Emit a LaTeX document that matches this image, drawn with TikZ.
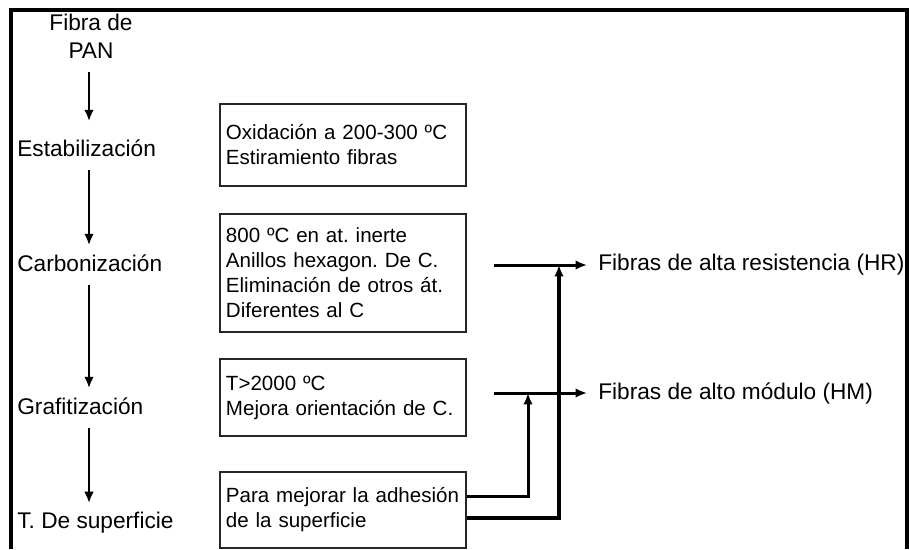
\documentclass[tikz,border=0pt]{standalone}
\usepackage{fontspec}
\setmainfont{Liberation Sans}
\usetikzlibrary{arrows.meta}
\frenchspacing
\newcommand{\lbltxt}{\fontsize{12.9}{16}\selectfont}
\newcommand{\boxtxt}{\fontsize{11.7}{14.2}\selectfont}
\tikzset{
  lbl/.style={inner sep=0pt, font=\lbltxt},
  stepbox/.style={draw=black!85, line width=1.1pt, font=\boxtxt, align=left,
    text width=4.68cm, minimum width=4.92cm, inner xsep=0.12cm, inner ysep=0pt,
    anchor=north west},
  flow/.style={->, line width=1.7pt},
  downflow/.style={flow, shorten <=0.26cm, shorten >=0.18cm},
}
\begin{document}
\begin{tikzpicture}
  [x=0.02cm, y=-0.02cm, >={Latex[length=6.5pt,width=5.5pt]}]
  \useasboundingbox (0,0) rectangle (909,549);
  \draw[line width=2pt] (11,549) -- (11,10) -- (907,10) -- (907,549);

  \node[lbl, align=center] (pan) at (91,36) {Fibra de\\PAN};
  \node[lbl, anchor=west] (estab)  at (17,148) {Estabilización};
  \node[lbl, anchor=west] (carbon) at (17,263) {Carbonización};
  \node[lbl, anchor=west] (grafit) at (17,406) {Grafitización};
  \node[lbl, anchor=west] (tsup)   at (17,523) {T. De superficie};

  \coordinate (col) at (89,0);
  \draw[downflow, shorten >=0.36cm] (col |- pan.south) -- (col |- estab.north);
  \draw[downflow] (col |- estab.south)  -- (col |- carbon.north);
  \draw[downflow] (col |- carbon.south) -- (col |- grafit.north);
  \draw[downflow] (col |- grafit.south) -- (col |- tsup.north);

  \node[stepbox, minimum height=1.64cm] (oxid) at (219,103)
    {Oxidación a 200-300 ºC\\Estiramiento fibras};
  \node[stepbox, minimum height=2.36cm] (carbbox) at (219,213)
    {800 ºC en at. inerte\\Anillos hexagon. De C.\\Eliminación de otros át.\\Diferentes al C};
  \node[stepbox, minimum height=1.54cm] (grafbox) at (219,358)
    {T>2000 ºC\\Mejora orientación de C.};
  \node[stepbox, minimum height=1.52cm] (supbox) at (219,471)
    {Para mejorar la adhesión\\de la superficie};

  \node[lbl, anchor=west] (hr) at (598,265) {Fibras de alta resistencia (HR)};
  \node[lbl, anchor=west] (hm) at (598,393) {Fibras de alto módulo (HM)};

  \draw[flow, shorten <=0.54cm, shorten >=0.22cm] (carbbox.east |- hr.west) -- (hr.west);
  \draw[flow, shorten <=0.54cm, shorten >=0.22cm] (grafbox.east |- hm.west) -- (hm.west);

  % surface treatment feeds both products
  \coordinate (hmjoin) at (528,393);
  \coordinate (hrjoin) at (559,265);
  \draw[flow] ([yshift=0.26cm]supbox.east) -| (hmjoin);
  \draw[flow, line width=2.2pt] ([yshift=-0.16cm]supbox.east) -| (hrjoin);
\end{tikzpicture}
\end{document}
